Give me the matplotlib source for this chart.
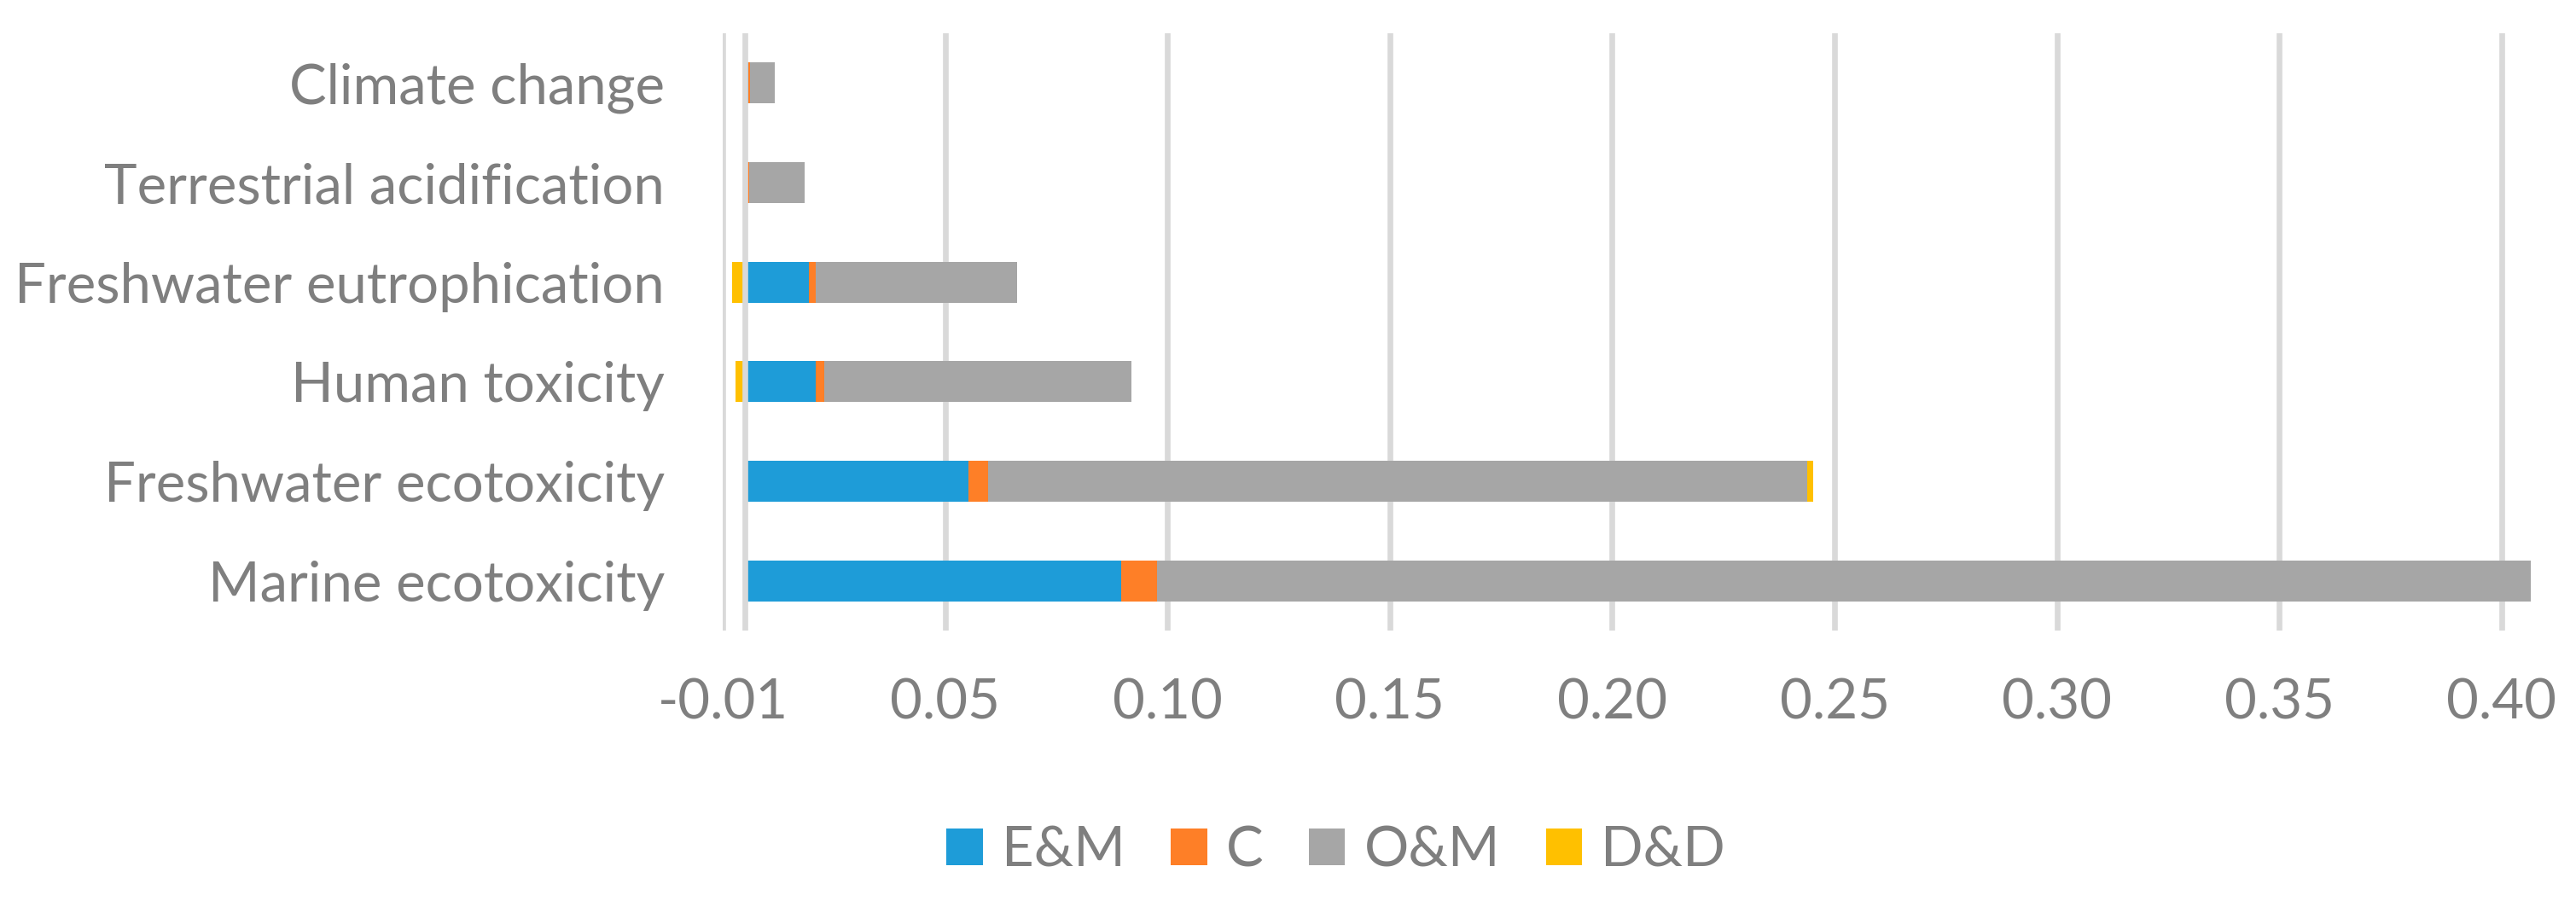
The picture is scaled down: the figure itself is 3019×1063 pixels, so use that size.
import matplotlib
matplotlib.use("Agg")
import matplotlib.pyplot as plt
import numpy as np

categories = ["Marine ecotoxicity", "Freshwater ecotoxicity", "Human toxicity",
              "Freshwater eutrophication", "Terrestrial acidification", "Climate change"]
series_names = ["E&M", "C", "O&M", "D&D"]
em = [0.0846, 0.0502, 0.0158, 0.0144, 0.0005, 0.0007]
c = [0.0081, 0.0045, 0.0020, 0.0014, 0.0004, 0.0004]
om = [0.3088, 0.1842, 0.0690, 0.0454, 0.0125, 0.0056]
dd = [0.0, 0.0013, -0.0022, -0.0030, 0.0, 0.0]
tick_values = [-0.005, 0.045, 0.095, 0.145, 0.195, 0.245, 0.295, 0.345, 0.395]
tick_labels = ["-0.01", "0.05", "0.10", "0.15", "0.20", "0.25", "0.30", "0.35", "0.40"]

colors = ["#1E9CD8", "#FE7F27", "#A6A6A6", "#FFC000"]
text_color = "#7F7F7F"
grid_color = "#D9D9D9"
font = ["Lato", "DejaVu Sans"]

fig = plt.figure(figsize=(30.19, 10.63), dpi=100)
ax = fig.add_axes([0.2806, 0.3048, 0.9884 - 0.2806, 0.9633 - 0.3048])

y = np.arange(len(categories))
pos_base = np.zeros(len(categories))
neg_base = np.zeros(len(categories))
for vals, name, col in zip([em, c, om, dd], series_names, colors):
    v = np.array(vals)
    left = np.where(v >= 0, pos_base, neg_base)
    ax.barh(y, v, left=left, height=0.41, color=col, label=name, zorder=2)
    pos_base = pos_base + np.where(v >= 0, v, 0)
    neg_base = neg_base + np.where(v < 0, v, 0)

ax.set_xlim(-0.005, 0.405)
ax.set_ylim(-0.5, len(categories) - 0.5)
ax.set_xticks(tick_values)
ax.set_xticklabels(tick_labels)
ax.set_yticks(y)
ax.set_yticklabels(categories)
ax.grid(axis="x", color=grid_color, linewidth=4.8, zorder=0)
ax.set_axisbelow(True)
ax.axvline(0, color=grid_color, linewidth=4.8, zorder=3)
for s in ax.spines.values():
    s.set_visible(False)
ax.tick_params(axis="x", length=0, pad=40, labelsize=47, labelcolor=text_color)
ax.tick_params(axis="y", length=0, pad=49, labelsize=47, labelcolor=text_color)
for lab in ax.get_xticklabels() + ax.get_yticklabels():
    lab.set_family(font)

leg = fig.legend(loc="center", bbox_to_anchor=(0.5186, 0.062), ncol=4, frameon=False,
                 prop={"family": font, "size": 47}, handlelength=0.65, handleheight=0.65,
                 handletextpad=0.34, columnspacing=0.82, borderaxespad=0)
for t in leg.get_texts():
    t.set_color(text_color)

fig.savefig("out.png", dpi=100, facecolor="white")
